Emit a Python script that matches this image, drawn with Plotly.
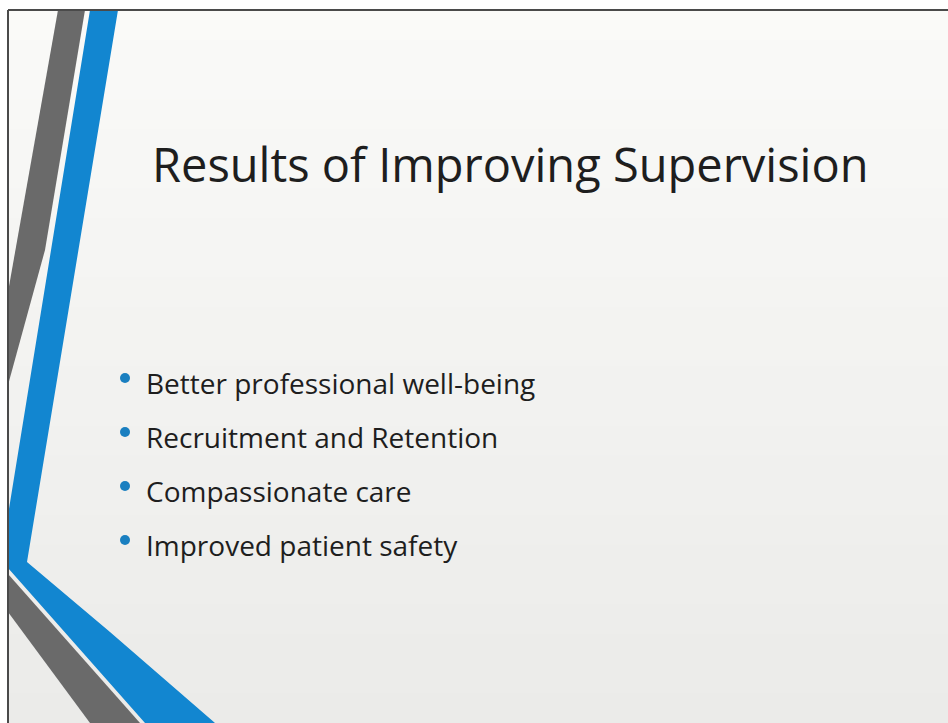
import plotly.graph_objects as go

# ---- content ----
title_text = "Results of Improving Supervision"
bullet_items = [
    "Better professional well-being",
    "Recruitment and Retention",
    "Compassionate care",
    "Improved patient safety",
]
bullet_rows = [1, 2, 3, 4]

W, H = 948, 723
BLUE = "#1286d0"
GRAY = "#6a6a6a"
TEXT = "#1e1e1e"
FONT = "Open Sans"

fig = go.Figure()

shapes = []
# slide background inside the frame: gentle vertical shading (light top, greyer bottom)
n_bands = 24
top_rgb = (250, 250, 248)
bot_rgb = (235, 235, 233)
for i in range(n_bands):
    t = i / (n_bands - 1)
    c = tuple(round(a + (b - a) * t) for a, b in zip(top_rgb, bot_rgb))
    y0 = 10 + (H - 10) * i / n_bands
    y1 = 10 + (H - 10) * (i + 1) / n_bands + 1
    shapes.append(dict(type="rect", x0=8, y0=y0, x1=W, y1=y1,
                       fillcolor="rgb(%d,%d,%d)" % c, line=dict(width=0), layer="below"))

shapes += [
    # upper gray stripe
    dict(type="path", path="M 58 10 L 85 10 L 45 250 L 8 385 L 8 292 Z",
         fillcolor=GRAY, line=dict(width=0)),
    # upper blue stripe + lower blue band
    dict(type="path",
         path="M 90 10 L 118 10 L 27 562 L 110 632 L 215 723 L 145 723 L 8 568 L 8 515 Z",
         fillcolor=BLUE, line=dict(width=0)),
    # lower gray band
    dict(type="path", path="M 8 574 L 140 723 L 90 723 L 8 612 Z",
         fillcolor=GRAY, line=dict(width=0)),
    # frame lines
    dict(type="line", x0=8, y0=10, x1=W, y1=10, line=dict(color="#4a4a4a", width=2)),
    dict(type="line", x0=8, y0=10, x1=8, y1=H, line=dict(color="#4a4a4a", width=2)),
]

row_y0 = 383
row_step = 54
ys = [row_y0 + (r - 1) * row_step for r in bullet_rows]

# bullet dots
fig.add_trace(go.Scatter(
    x=[125] * len(bullet_items), y=[y - 5 for y in ys], mode="markers",
    marker=dict(color="#1a7fc0", size=10, line=dict(width=0)),
    hoverinfo="skip", showlegend=False,
))

annotations = [
    dict(x=150, y=164, xref="x", yref="y", text=title_text, showarrow=False,
         xanchor="left", yanchor="middle",
         font=dict(family=FONT, size=47, color=TEXT)),
]
for item, y in zip(bullet_items, ys):
    annotations.append(dict(
        x=144, y=y, xref="x", yref="y", text=item, showarrow=False,
        xanchor="left", yanchor="middle",
        font=dict(family=FONT, size=28, color=TEXT)))

fig.update_layout(
    width=W, height=H, margin=dict(l=0, r=0, t=0, b=0),
    paper_bgcolor="white", plot_bgcolor="white",
    xaxis=dict(range=[0, W], visible=False, fixedrange=True),
    yaxis=dict(range=[H, 0], visible=False, fixedrange=True),
    shapes=shapes, annotations=annotations, showlegend=False,
)

fig.write_html("out.html", config={"displayModeBar": False},
               post_script="document.body.style.margin='0';document.body.style.overflow='hidden';")
